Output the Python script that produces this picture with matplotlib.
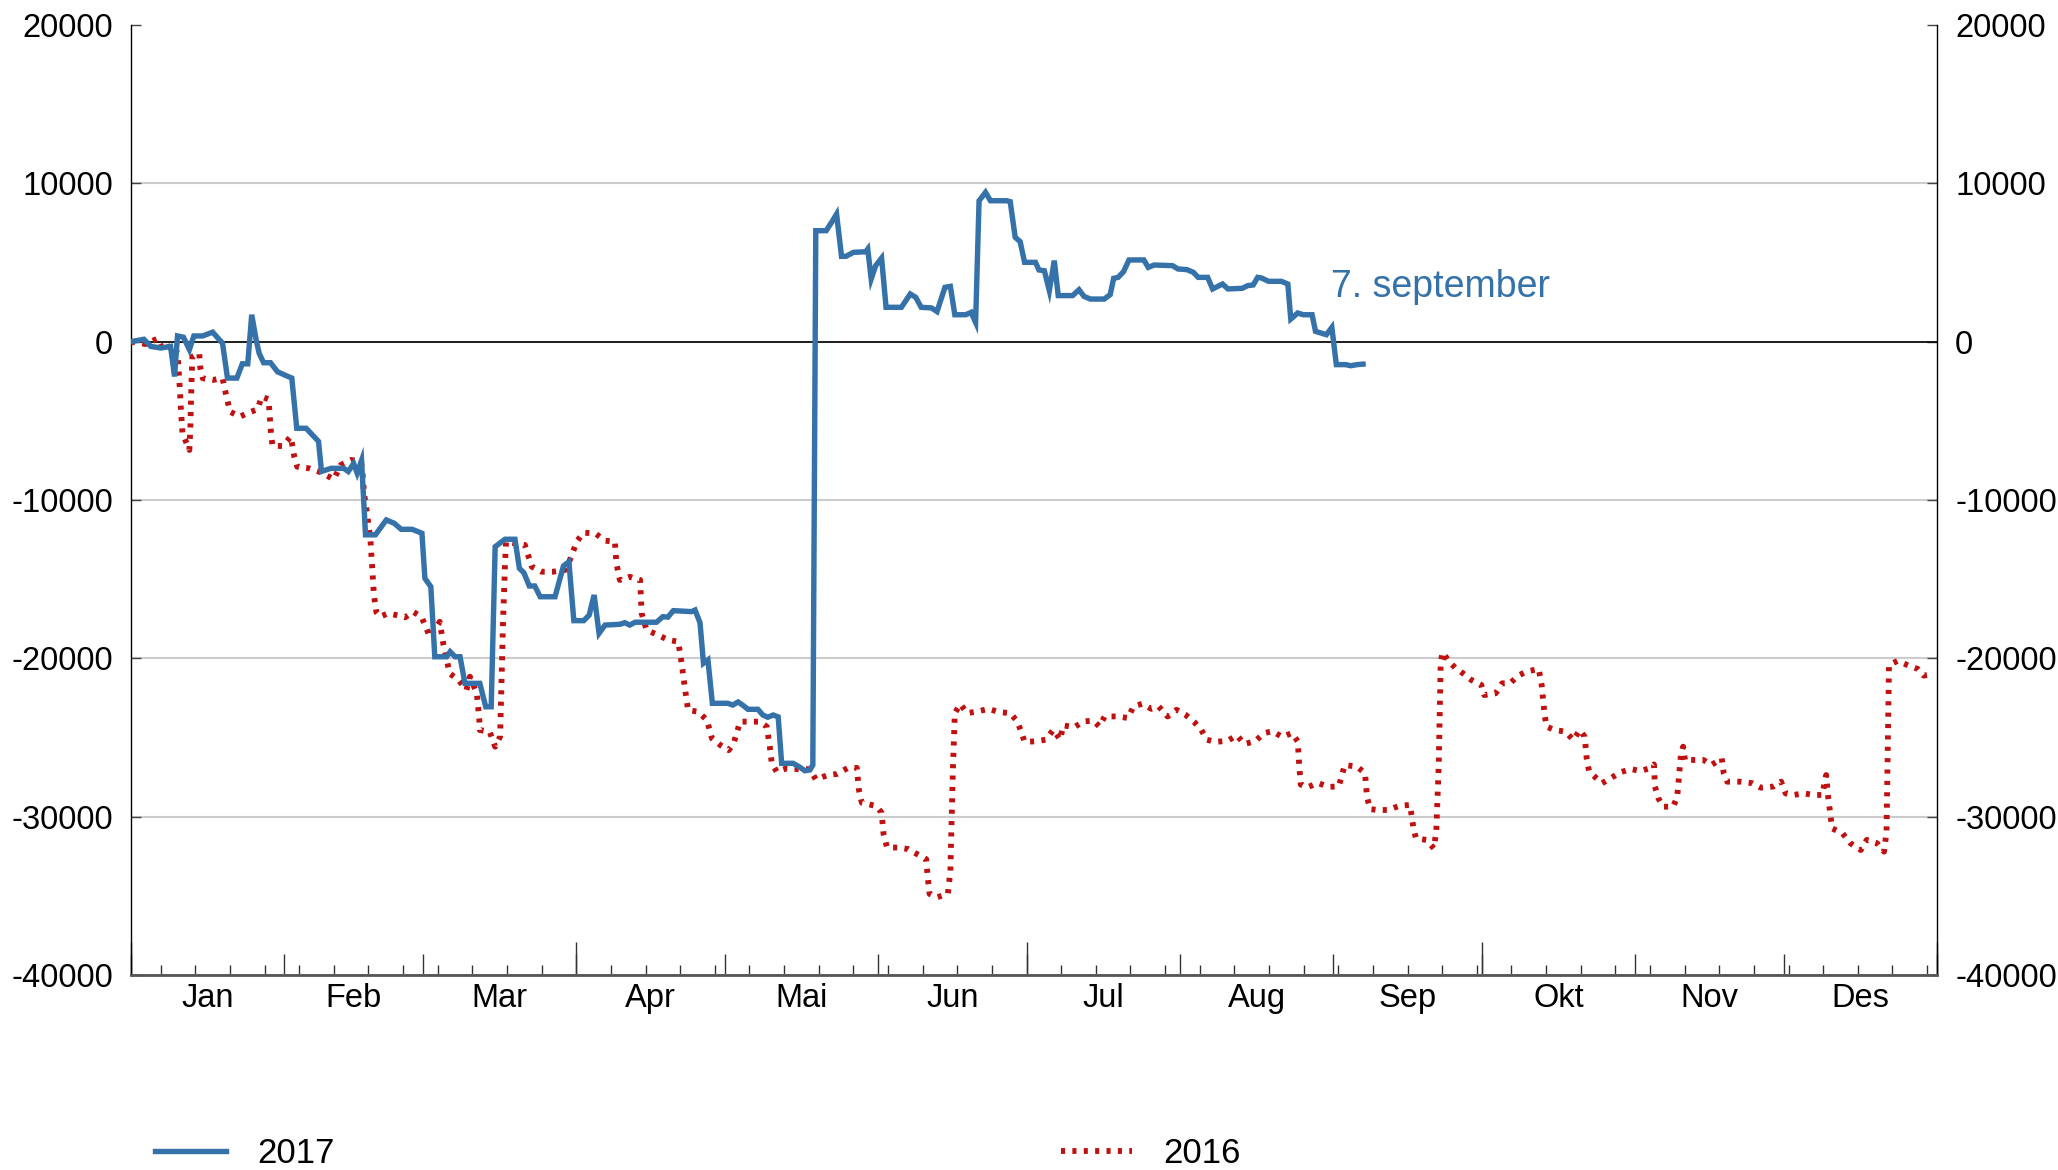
import matplotlib.pyplot as plt

plt.rcParams["font.family"] = ["Liberation Sans", "DejaVu Sans"]
plt.rcParams["axes.unicode_minus"] = False

# 2017 series: day of year (0 = 1 Jan) and value, ends 7 September
days_2017 = [0, 2.6, 4, 6, 8, 8.8, 9.4, 10.6, 11.8, 12.7, 14.5, 16.5, 18.5, 19.5, 21.4,
             22.5, 23.6, 24.4, 25.3, 25.9, 26.8, 28.2, 29.6, 31, 32.5, 33.5, 35.4, 36.7,
             37.9, 38.5, 40.4, 43, 43.9, 45, 45.7, 46.6, 47.4, 49.4, 51.6, 53.2, 54.6,
             56.8, 58.8, 59.4, 60.6, 61.4, 63.8, 64.5, 65.5, 66.5, 67.5, 70.5, 71.7,
             72.8, 73.6, 75.6, 77.6, 78.5, 79.4, 80.5, 81.6, 82.7, 85.7, 87.4, 88.5,
             89.5, 91.5, 92.6, 93.6, 94.6, 95.8, 98.8, 99.8, 100.8, 101.9, 106.2, 107.5,
             108.5, 109.6, 113.3, 114, 115, 115.7, 116.6, 117.5, 120.6, 121.6, 122.7,
             123.6, 124.7, 126.7, 127.7, 128.7, 129.8, 130.8, 131.5, 133.8, 135, 136.2,
             137.2, 137.8, 138.4, 140.5, 141.6, 142.6, 143.6, 144.5, 146, 148.5, 148.9,
             149.6, 150.5, 151.7, 152.6, 155.7, 157.5, 158.6, 159.7, 161.8, 162.9, 164.5,
             165.6, 166.5, 168.7, 169.8, 170.7, 171.4, 172.7, 173.7, 177, 177.7, 178.7,
             179.7, 180.6, 182.8, 183.5, 184.6, 185.6, 186.6, 187.4, 190.3, 191.6, 192.6,
             193.9, 196.7, 197.9, 198.6, 199.5, 200.6, 201.7, 204.7, 205.6, 206.8, 210.5,
             211.6, 213.4, 214.7, 215.7, 217.6, 218.6, 220.6, 221.7, 224.6, 225.7, 226.8,
             227.7, 228.5, 229.9, 232.5, 233.8, 234.4, 235.8, 236.9, 238.7, 239.4, 241.6,
             242.7, 243.6, 245.5, 246.5, 247.8, 249]
vals_2017 = [0, 150, -300, -400, -300, -2200, 360, 280, -500, 360, 360, 600, -100, -2300,
             -2300, -1400, -1400, 1700, 100, -730, -1330, -1330, -1900, -2100, -2300,
             -5470, -5470, -5900, -6300, -8200, -8000, -8000, -8200, -7700, -8300, -7500,
             -12200, -12200, -11260, -11470, -11850, -11850, -12100, -14950, -15480,
             -19900, -19900, -19580, -19900, -19900, -21580, -21580, -23060, -23060,
             -12950, -12480, -12480, -14320, -14590, -15430, -15430, -16110, -16110,
             -14170, -13900, -17620, -17620, -17270, -16000, -18420, -17900, -17850,
             -17750, -17900, -17720, -17720, -17370, -17400, -16990, -17050, -16950,
             -17750, -20310, -20100, -22840, -22840, -22950, -22760, -22950, -23220,
             -23220, -23580, -23720, -23580, -23700, -26630, -26630, -26840, -27100,
             -27050, -26740, 7010, 7010, 7540, 8060, 5390, 5390, 5640, 5680, 5850, 3960,
             4800, 5280, 2170, 2170, 3010, 2800, 2170, 2130, 1900, 3430, 3490, 1700, 1700,
             1850, 1220, 8900, 9430, 8900, 8900, 8840, 6590, 6320, 5010, 5010, 4530, 4480,
             3220, 5120, 2910, 2910, 3280, 2860, 2690, 2690, 2970, 4000, 4060, 4420, 5160,
             5160, 4690, 4840, 4800, 4590, 4550, 4380, 4060, 4060, 3330, 3640, 3330, 3370,
             3540, 3580, 4060, 4020, 3810, 3810, 3640, 1430, 1810, 1700, 1700, 650, 440,
             900, -1450, -1450, -1520, -1450, -1420]

# 2016 series: day of year and value, whole year
days_2016 = [0, 1, 3, 5.4, 6.4, 8.4, 9.4, 9.8, 10.1, 10.4, 11.8, 12, 12.2, 12.4, 13.8, 14,
             14.5, 16.5, 18.5, 19, 20, 22, 23.8, 25.6, 26.4, 27.8, 28.3, 28.6, 30.6, 32.3,
             33, 33.6, 36, 38, 41, 42.4, 44.5, 46.5, 46.8, 47.1, 47.8, 48.4, 48.7, 49.1,
             49.6, 50.3, 52, 53.6, 55.4, 57, 58.7, 60.4, 62.4, 63.1, 64.4, 66.2, 67.8,
             68.5, 69.9, 70.4, 70.5, 72.5, 73.6, 74.6, 74.9, 75.2, 75.6, 75.8, 77.6, 79.6,
             81, 83, 85.3, 87.7, 88.7, 90.1, 91.4, 93.8, 95.8, 97.8, 98.1, 98.8, 100.8,
             101.7, 102.9, 103.2, 104.2, 106.5, 108.6, 110.6, 111.3, 111.9, 112.6, 114.6,
             116.4, 117.4, 119.1, 120.8, 121.8, 123.1, 125.1, 127.1, 128.5, 129.1, 129.5,
             130.5, 132.5, 134.9, 137.2, 138.4, 140.6, 142.7, 144.9, 146.7, 147.1, 147.7,
             150.6, 151.7, 152.1, 152.8, 155, 157.1, 158.9, 160.7, 161.1, 161.4, 162.9,
             165.1, 165.6, 166.1, 166.5, 167.6, 169, 171.2, 173.3, 175.5, 177.7, 179.1,
             179.9, 180.6, 182.8, 184.9, 186.4, 187.8, 188.4, 190.6, 192.5, 194.5, 195.7,
             196.8, 199.4, 201.5, 202.6, 204.4, 206.2, 207.7, 209.5, 211.3, 213.1, 214.9,
             216.3, 217.4, 219.2, 221.7, 223.5, 225, 227.2, 229, 230.7, 232.7, 234.6,
             235.8, 236.1, 236.4, 237.7, 239.9, 242, 244.1, 245.3, 247.8, 249.4, 249.8,
             250.4, 251.9, 254, 256.4, 258.5, 259.2, 259.7, 261.8, 263.3, 263.8, 264.3,
             264.7, 265.1, 266.3, 267.6, 269.2, 270.9, 272.9, 273.5, 275.8, 277.1, 278.7,
             280.4, 282, 284.5, 285.1, 285.7, 286.1, 287.8, 289.9, 291.5, 292.8, 293.8,
             294.2, 294.7, 297.3, 299, 301, 303.1, 305.1, 306.8, 307.8, 308, 308.7, 309.6,
             311.7, 312.5, 313.3, 313.7, 314.1, 315.3, 317.8, 319.4, 321.5, 321.9, 322.6,
             325.2, 327.7, 329.4, 331.9, 333.5, 334.4, 336, 338.1, 340.1, 341.8, 342.6,
             343, 343.8, 345.9, 347.5, 349.6, 350.8, 352.9, 354.3, 354.8, 355.3, 357, 359,
             361.1, 362.3, 364.4]
vals_2016 = [0, -60, -150, 200, -520, -210, -730, -2630, -4310, -5790, -6840, -5370, -2840,
             -950, -730, -1640, -2310, -2420, -2310, -3050, -4420, -4740, -4480, -4270,
             -3470, -3640, -5790, -6590, -6590, -6000, -7260, -7900, -8000, -8210, -8690,
             -7790, -7470, -7580, -8310, -9580, -11050, -12530, -14000, -16000, -17100,
             -17370, -17160, -17270, -17410, -17060, -17370, -18640, -17690, -19050,
             -20950, -21370, -22000, -21160, -22210, -23900, -24530, -24640, -25580,
             -24950, -21370, -17580, -14000, -12630, -12740, -12840, -14210, -14530,
             -14530, -14420, -13790, -12630, -12070, -12100, -12570, -12630, -14000,
             -15050, -14850, -14950, -15050, -17160, -18210, -18530, -18840, -18950,
             -20320, -21790, -23270, -23370, -23900, -25050, -25480, -25800, -25370,
             -24000, -24000, -24000, -24320, -25580, -26630, -27160, -26950, -27000,
             -27000, -27650, -27400, -27300, -26920, -26920, -28280, -29120, -29330,
             -29750, -31110, -31950, -31950, -32050, -32370, -32680, -34050, -34880,
             -35090, -34880, -33420, -27130, -23460, -22890, -23460, -23350, -23190,
             -23400, -23460, -23980, -24610, -25280, -25240, -25140, -24510, -25140,
             -24230, -24360, -23980, -23940, -24300, -23670, -23670, -23770, -23040,
             -22870, -23190, -23040, -23670, -23250, -23560, -24030, -24510, -25140,
             -25280, -25200, -24860, -25410, -25240, -24720, -24610, -24970, -24720,
             -25240, -26710, -27970, -28150, -27870, -28120, -28090, -26740, -26840,
             -27260, -28740, -29520, -29580, -29580, -29310, -29260, -30740, -31370,
             -31470, -32000, -30950, -26740, -20210, -19620, -20170, -20590, -20950,
             -21370, -21680, -22320, -22210, -21580, -21580, -21090, -20840, -20670,
             -21680, -23580, -24320, -24530, -24630, -25160, -24530, -24950, -26320,
             -27160, -27890, -27580, -27200, -26990, -27120, -26950, -26700, -28100,
             -28840, -29370, -29370, -28740, -25890, -25580, -26480, -26420, -26420,
             -26740, -26320, -27260, -27790, -27790, -27890, -28170, -28100, -27790,
             -28530, -28630, -28530, -28630, -28630, -27370, -28740, -30740, -31050,
             -31680, -32110, -31470, -31680, -32210, -30950, -20420, -20170, -20420,
             -20670, -21090, -21000]

months = ["Jan", "Feb", "Mar", "Apr", "Mai", "Jun", "Jul", "Aug", "Sep", "Okt", "Nov", "Des"]
month_start = [0, 31, 59, 90, 120, 151, 181, 212, 243, 273, 304, 334, 365]
quarter_start = [0, 90, 181, 273, 365]

BLUE = "#3572a9"
RED = "#c0100f"

fig = plt.figure(figsize=(20.58, 11.70), dpi=100)
ax = fig.add_axes([0.06365, 0.16667, 0.87755, 0.81197])

ax.plot(days_2017, vals_2017, color=BLUE, lw=3.9, solid_joinstyle="miter",
        label="2017", zorder=4)
ax.plot(days_2016, vals_2016, color=RED, lw=4.2, linestyle=(0, (0.7, 1.25)),
        dash_capstyle="butt", label="2016", zorder=3)
ax.axhline(0, color="black", lw=1.2, zorder=2)

ax.set_xlim(0, 365)
ax.set_ylim(-40000, 20000)

# y axis: labels on both sides, short inward ticks
ax.set_yticks(range(-40000, 20001, 10000))
ax.grid(axis="y", color="#cccccc", lw=1.5)
ax.get_ygridlines()[-1].set_visible(False)
ax.set_axisbelow(True)
ax.tick_params(axis="y", direction="in", length=7, width=1, color="#444444",
               labelsize=23.5, pad=13, left=True, right=True,
               labelleft=True, labelright=True)

# x axis: month ticks, weekly minor ticks, longer quarter ticks
ax.set_xticks(month_start)
ax.set_xticks(range(6, 365, 7), minor=True)
ax.tick_params(axis="x", which="major", direction="in", length=15, width=1,
               color="#333333", labelbottom=False)
ax.tick_params(axis="x", which="minor", direction="in", length=7.4, width=1,
               color="#333333")

quarters = ax.secondary_xaxis("bottom")
quarters.set_xticks(quarter_start)
quarters.tick_params(direction="in", length=24, width=1, color="#333333",
                     labelbottom=False)
quarters.spines["bottom"].set_visible(False)

mids = [(a + b) / 2 for a, b in zip(month_start[:-1], month_start[1:])]
labels = ax.secondary_xaxis("bottom")
labels.set_xticks(mids, labels=months)
labels.tick_params(length=0, pad=6, labelsize=23.5)
labels.spines["bottom"].set_visible(False)

ax.spines["top"].set_visible(False)
ax.spines["left"].set_linewidth(1)
ax.spines["right"].set_linewidth(1)
ax.spines["bottom"].set_color("#555555")
ax.spines["bottom"].set_linewidth(2)

ax.text(242.5, 3450, "7. september", color=BLUE, fontsize=27, va="center", ha="left")

handles, names = ax.get_legend_handles_labels()
fig.legend(handles, names, loc="lower left", bbox_to_anchor=(155 / 2058, 0.0),
           ncol=2, frameon=False, fontsize=25, handlelength=2.05,
           handletextpad=0.9, columnspacing=20.9, borderpad=0, borderaxespad=0)

fig.savefig("out.png", dpi=100)
